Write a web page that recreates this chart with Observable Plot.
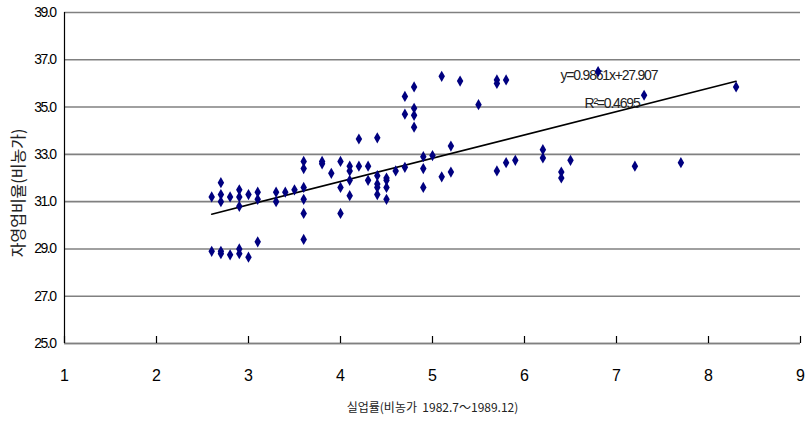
<!DOCTYPE html>
<html><head><meta charset="utf-8">
<script src="https://cdn.jsdelivr.net/npm/d3@7"></script>
<script src="https://cdn.jsdelivr.net/npm/@observablehq/plot@0.6"></script>
<style>
body{margin:0;background:#fff;}
#chart svg{display:block;}
</style>
</head><body><div id="chart"></div>
<script>
// 실업률 (비농가) — x
const unemployment = [
  2.6,2.6,
  2.7,2.7,2.7,2.7,2.7,
  2.8,2.8,
  2.9,2.9,2.9,2.9,2.9,
  3.0,3.0,
  3.1,3.1,3.1,
  3.3,3.3,
  3.4,3.5,
  3.6,3.6,3.6,3.6,3.6,3.6,
  3.8,3.8,3.9,
  4.0,4.0,4.0,
  4.1,4.1,4.1,4.1,
  4.2,4.2,
  4.3,4.3,
  4.4,4.4,4.4,4.4,4.4,
  4.5,4.5,4.5,4.5,
  4.6,
  4.7,4.7,4.7,
  4.8,4.8,4.8,4.8,
  4.9,4.9,4.9,
  5.0,
  5.1,5.1,
  5.2,5.2,
  5.3,5.5,
  5.7,5.7,5.7,
  5.8,5.8,5.9,
  6.2,6.2,
  6.4,6.4,
  6.5,6.8,7.2,7.3,7.7,8.3
];
// 자영업비율 (비농가) — y
const selfEmployment = [
  31.2,28.9,
  31.8,31.3,31.0,28.9,28.8,
  31.2,28.75,
  31.5,31.2,30.8,29.0,28.8,
  31.3,28.65,
  31.4,31.1,29.3,
  31.4,31.0,
  31.4,31.5,
  32.7,32.4,31.6,31.1,30.5,29.4,
  32.7,32.6,32.2,
  32.7,31.6,30.5,
  32.5,32.3,31.9,31.25,
  33.65,32.5,
  32.5,31.9,
  33.7,32.1,31.75,31.6,31.3,
  32.0,31.9,31.6,31.1,
  32.3,
  35.45,34.7,32.45,
  35.85,34.95,34.65,34.15,
  32.9,32.4,31.6,
  32.95,
  36.3,32.05,
  33.35,32.25,
  36.1,35.1,
  36.15,36.0,32.3,
  36.15,32.65,32.75,
  33.2,32.85,
  32.25,32.0,
  32.75,36.5,32.5,35.5,32.65,35.85
];
const xTicks = [1,2,3,4,5,6,7,8,9];
const yTicks = [25,27,29,31,33,35,37,39];
const trendSlope = 0.9861;
const trendIntercept = 27.907;
const rSquared = 0.4695;
const xTitle = "실업률(비농가  1982.7～1989.12)";
const yTitle = "자영업비율(비농가)";
const eqText = "y=" + trendSlope + "x+" + trendIntercept;
const r2Text = "R²=" + rSquared;

const points = unemployment.map((x, i) => ({x, y: selfEmployment[i]}));
const xMin = d3.min(unemployment), xMax = d3.max(unemployment);
const trend = [xMin, xMax].map(x => ({x, y: trendSlope * x + trendIntercept}));

const W = 809, H = 423, mT = 12, mB = 80, mL = 64, mR = 9;
const frameH = H - mT - mB;

const chart = Plot.plot({
  width: W, height: H,
  marginTop: mT, marginBottom: mB, marginLeft: mL, marginRight: mR,
  style: {fontFamily: "'Liberation Sans', 'Noto Sans CJK KR', sans-serif", background: "#fff", color: "#000"},
  x: {domain: [1, 9], ticks: xTicks},
  y: {domain: [25, 39], ticks: yTicks},
  marks: [
    Plot.gridY(yTicks, {stroke: "#808080", strokeOpacity: 1, strokeWidth: 1.6}),
    Plot.ruleY([25], {stroke: "#808080", strokeWidth: 1.6}),
    Plot.ruleX([1], {stroke: "#000", strokeWidth: 1.2}),
    Plot.tickX(xTicks, {x: d => d, insetTop: frameH - 7, stroke: "#000", strokeWidth: 1.2}),
    Plot.axisX(xTicks, {tickSize: 0, tickPadding: 26, fontSize: 16, label: null, fill: "#000"}),
    Plot.axisY(yTicks, {tickSize: 0, tickPadding: 9, fontSize: 14, tickFormat: d3.format(".1f"), label: null, fill: "#000"}),
    Plot.line(trend, {x: "x", y: "y", stroke: "#000", strokeWidth: 1.6}),
    Plot.text([eqText], {frameAnchor: "top-left", dx: 496, dy: 63, textAnchor: "start", lineAnchor: "middle", fontSize: 14, fill: "#222"}),
    Plot.text([r2Text], {frameAnchor: "top-left", dx: 520, dy: 91, textAnchor: "start", lineAnchor: "middle", fontSize: 14, fill: "#222"}),
    Plot.dot(points, {x: "x", y: "y", symbol: "diamond", r: 3.4, fill: "#000080", stroke: "none"}),
    Plot.text([xTitle], {frameAnchor: "bottom", dy: 65, textAnchor: "middle", lineAnchor: "middle", fontSize: 12, fill: "#222", fontFamily: "'Noto Sans CJK KR', sans-serif"}),
    Plot.text([yTitle], {frameAnchor: "left", dx: -46, dy: 15, rotate: -90, textAnchor: "middle", lineAnchor: "middle", fontSize: 16, fill: "#222", fontFamily: "'Noto Sans CJK KR', sans-serif"})
  ]
});
document.getElementById("chart").appendChild(chart);
d3.select(chart).selectAll('g[aria-label="y-axis tick label"] text').style("letter-spacing", "-1.5px");
d3.select(chart).selectAll('g[aria-label="text"] text').filter(function(){ return /=/.test(this.textContent); }).style("letter-spacing", "-1.2px");
</script>
</body></html>
